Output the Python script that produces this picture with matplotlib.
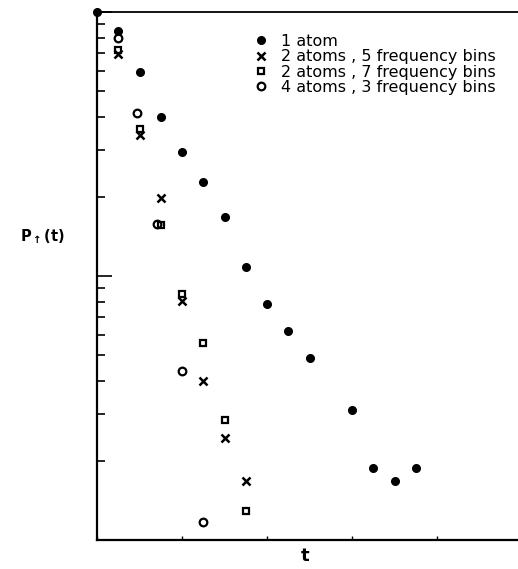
import matplotlib
matplotlib.use("Agg")
import matplotlib.pyplot as plt
from matplotlib.ticker import LogLocator, NullFormatter, MultipleLocator

# data (log scale, 0.01 .. 1)
t_one = [0.0, 0.25, 0.5, 0.75, 1.0, 1.25, 1.5, 1.75, 2.0, 2.25, 2.5, 3.0, 3.25, 3.5, 3.75]
p_one = [1.0, 0.849, 0.594, 0.401, 0.296, 0.227, 0.168, 0.108, 0.078, 0.0621, 0.0489,
         0.0311, 0.0187, 0.0167, 0.0188]

t_two5 = [0.25, 0.5, 0.75, 1.0, 1.25, 1.5, 1.75]
p_two5 = [0.693, 0.341, 0.198, 0.0807, 0.0401, 0.0244, 0.0167]

t_two7 = [0.25, 0.5, 0.75, 1.0, 1.25, 1.5, 1.75]
p_two7 = [0.717, 0.360, 0.156, 0.0856, 0.0556, 0.0285, 0.0129]

t_four3 = [0.25, 0.47, 0.71, 1.0, 1.25]
p_four3 = [0.795, 0.416, 0.158, 0.0438, 0.0117]

labels = ["1 atom",
          "2 atoms , 5 frequency bins",
          "2 atoms , 7 frequency bins",
          "4 atoms , 3 frequency bins"]

plt.rcParams['mathtext.fontset'] = 'dejavusans'

fig = plt.figure(figsize=(5.18, 5.69), dpi=100)
W, H = 518, 569
x0, x1, ytop, ybot = 97, 522, 12, 540
ax = fig.add_axes([x0 / W, (H - ybot) / H, (x1 - x0) / W, (ybot - ytop) / H])

ax.set_yscale("log")
ax.set_xlim(0, 5)
ax.set_ylim(0.01, 1)

ax.plot(t_one, p_one, "o", color="black", markersize=5.5, clip_on=False, label=labels[0])
ax.plot(t_two5, p_two5, "x", color="black", markersize=5.5, markeredgewidth=1.8, label=labels[1])
ax.plot(t_two7, p_two7, "s", markerfacecolor="none", markeredgecolor="black",
        markersize=5, markeredgewidth=1.6, label=labels[2])
ax.plot(t_four3, p_four3, "o", markerfacecolor="none", markeredgecolor="black",
        markersize=5.5, markeredgewidth=1.6, label=labels[3])

# frame: thick left/bottom, thinner top, no visible right
for s in ["left", "bottom"]:
    ax.spines[s].set_linewidth(1.6)
ax.spines["top"].set_linewidth(1.3)
ax.spines["right"].set_visible(False)

ax.yaxis.set_major_locator(LogLocator(base=10))
ax.yaxis.set_minor_locator(LogLocator(base=10, subs=range(2, 10)))
ax.yaxis.set_major_formatter(NullFormatter())
ax.yaxis.set_minor_formatter(NullFormatter())
ax.xaxis.set_major_locator(MultipleLocator(1))
ax.xaxis.set_major_formatter(NullFormatter())
ax.tick_params(axis="y", which="major", direction="in", length=11, width=1.2, right=False)
ax.tick_params(axis="y", which="minor", direction="in", length=6, width=1.2, right=False)
ax.tick_params(axis="x", which="major", direction="in", length=3, width=1.0, top=False)

leg = ax.legend(loc="upper left", bbox_to_anchor=((255 - x0) / (x1 - x0), 1 - 22 / (ybot - ytop)),
                frameon=False, handlelength=0.7, handletextpad=0.9, labelspacing=0.02,
                borderaxespad=0, borderpad=0, fontsize=11.5)

fig.text(42 / W, 1 - 237 / H, r"$\mathbf{P_{\uparrow}(t)}$", fontsize=10.5, ha="center", va="center")
fig.text(305 / W, 1 - 556 / H, "t", fontsize=13, fontweight="bold", ha="center", va="center")

fig.savefig("out.png", dpi=100)
